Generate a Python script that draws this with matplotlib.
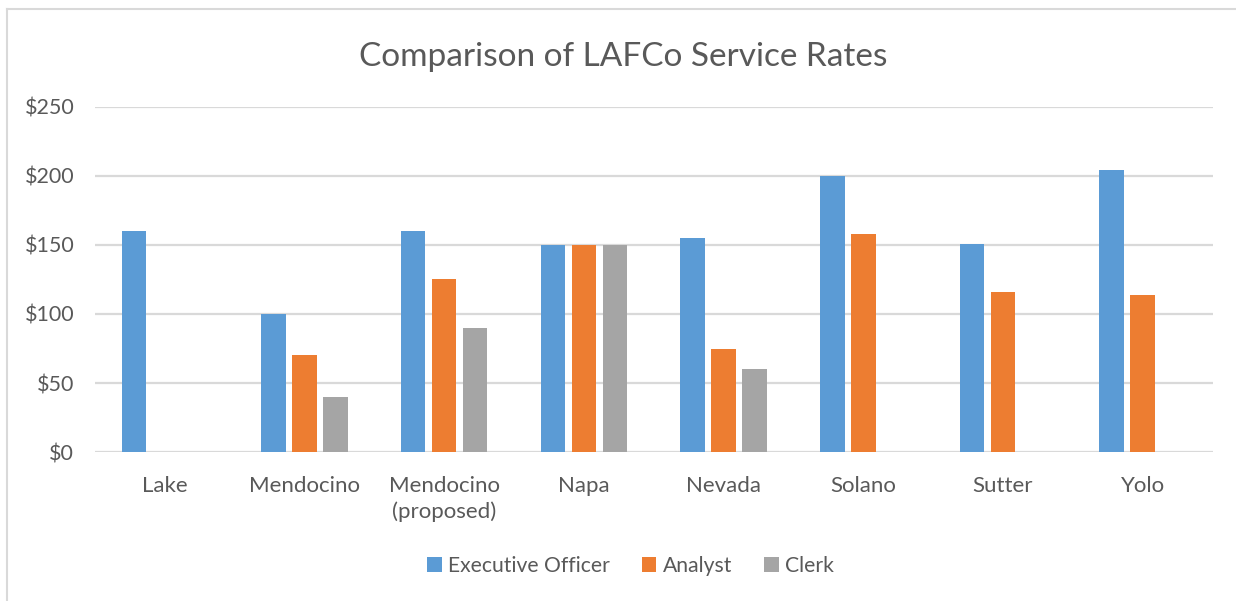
import numpy as np
import matplotlib.pyplot as plt
from matplotlib.lines import Line2D

plt.rcParams['font.family'] = ['Lato', 'DejaVu Sans']

# data
counties = ['Lake', 'Mendocino', 'Mendocino\n(proposed)', 'Napa', 'Nevada',
            'Solano', 'Sutter', 'Yolo']
exec_officer = [160, 100, 160, 150, 155, 200, 151, 204]
analyst = [0, 70, 125, 150, 75, 158, 116, 114]
clerk = [0, 40, 90, 150, 60, 0, 0, 0]
series_names = ['Executive Officer', 'Analyst', 'Clerk']
colors = ['#5B9BD5', '#ED7D31', '#A5A5A5']
yticks = [0, 50, 100, 150, 200, 250]

text_col = '#595959'

fig = plt.figure(figsize=(12.36, 6.01), dpi=100)
ax = fig.add_axes([0.0769, 0.2479, 0.9041, 0.5741])

x = np.arange(len(counties))
step = 0.222
width = 0.175
for i, (vals, name, c) in enumerate(zip([exec_officer, analyst, clerk], series_names, colors)):
    ax.bar(x + (i - 1) * step, vals, width, color=c, label=name, zorder=3)

ax.set_xlim(-0.5, len(counties) - 0.5)
ax.set_ylim(0, 250)
ax.set_yticks(yticks)
ax.set_yticklabels(['$%d' % v for v in yticks])
ax.set_xticks(x)
ax.set_xticklabels(counties, linespacing=1.35)
ax.tick_params(axis='y', length=0, labelsize=15.5, labelcolor=text_col, pad=15)
ax.tick_params(axis='x', length=0, labelsize=16, labelcolor=text_col, pad=17)
ax.yaxis.grid(True, color='#D9D9D9', linewidth=1.6, zorder=0)
for s in ax.spines.values():
    s.set_visible(False)

fig.text(0.504, 0.905, 'Comparison of LAFCo Service Rates', ha='center', va='center',
         fontsize=24, color=text_col)

handles, labels = ax.get_legend_handles_labels()
fig.legend(handles, labels, loc='center', bbox_to_anchor=(0.51, 0.058), ncol=3,
           frameon=False, fontsize=15.2, labelcolor=text_col, handlelength=0.7,
           handleheight=0.7, handletextpad=0.3, columnspacing=1.5)

# chart frame (only left and top edges fall inside the picture)
fig.add_artist(Line2D([0.0053, 0.0053], [0, 0.985], color='#D9D9D9', linewidth=1.5,
                      transform=fig.transFigure))
fig.add_artist(Line2D([0.0053, 1], [0.985, 0.985], color='#D9D9D9', linewidth=1.5,
                      transform=fig.transFigure))

fig.savefig('out.png', dpi=100)
